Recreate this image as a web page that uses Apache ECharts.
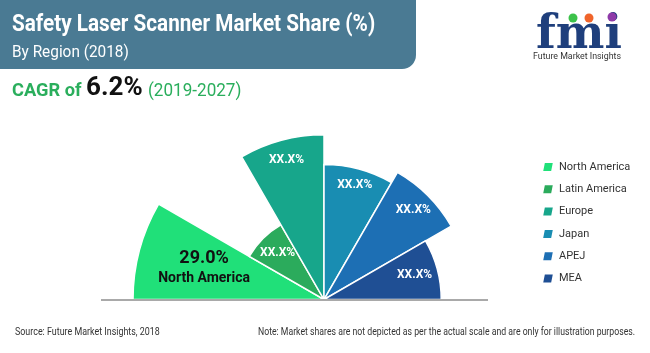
<!DOCTYPE html>
<html>
<head>
<meta charset="utf-8">
<script src="https://cdn.jsdelivr.net/npm/echarts@6/dist/echarts.min.js"></script>
<style>
html, body { margin: 0; padding: 0; background: #fff; }
#chart { width: 650px; height: 353px; }
</style>
</head>
<body>
<div id="chart"></div>
<script>
// regions, clockwise from the left
const regions = ["North America", "Latin America", "Europe", "Japan", "APEJ", "MEA"];
// values drive the petal length (half rose, not to scale)
const shares = [29.0, 13.1, 25.0, 20.5, 22.3, 17.8];
const shareLabels = ["29.0%", "XX.X%", "XX.X%", "XX.X%", "XX.X%", "XX.X%"];
const colors = ["#20e079", "#2bab5c", "#17a68b", "#198db2", "#1d6fb4", "#1f4f94"];
// how far out the label sits, as a share of the petal length
const labelDepth = [0.65, 0.76, 0.88, 0.88, 0.86, 0.8];

const cx = 324, cy = 299.5;

const chart = echarts.init(document.getElementById("chart"));

// one stacked series per region so the legend lists them
const series = regions.map(function (name, i) {
    const data = regions.map(function (r, j) { return j === i ? shares[i] : null; });
    const label = i === 0
        ? {
            show: true,
            position: "middle",
            rotate: 0,
            formatter: "{a|" + shareLabels[i] + "}\n{b|" + name + "}",
            rich: {
                a: { fontFamily: "Roboto", fontWeight: "bold", fontSize: 18, color: "#111", lineHeight: 22, align: "center" },
                b: { fontFamily: "Roboto", fontWeight: "bold", fontSize: 14, color: "#111", lineHeight: 18, align: "center" },
            },
        }
        : {
            show: true,
            position: "middle",
            rotate: 0,
            formatter: shareLabels[i],
            color: "#fff",
            fontFamily: "Roboto",
            fontWeight: "bold",
            fontSize: 12,
        };
    return {
        name: name,
        type: "bar",
        coordinateSystem: "polar",
        stack: "all",
        barCategoryGap: "0%",
        data: data,
        silent: true,
        itemStyle: { color: colors[i], borderColor: "#fff", borderWidth: 1.5 },
        label: label,
        labelLayout: function (p) {
            const lx = p.labelRect.x + p.labelRect.width / 2;
            const ly = p.labelRect.y + p.labelRect.height / 2;
            const k = labelDepth[i] / 0.5;
            return { x: cx + (lx - cx) * k, y: cy + (ly - cy) * k, rotate: 0, align: "center", verticalAlign: "middle" };
        },
    };
});

const option = {
    animation: false,
    backgroundColor: "#fff",
    polar: { center: [cx, cy], radius: [0, 191] },
    angleAxis: {
        type: "category",
        data: regions,
        startAngle: 180,
        endAngle: 0,
        clockwise: true,
        show: false,
    },
    radiusAxis: { type: "value", min: 0, max: "dataMax", show: false },
    legend: {
        orient: "vertical",
        left: 536,
        top: 156,
        itemWidth: 12,
        itemHeight: 10,
        itemGap: 10.3,
        icon: "path://M2,0 L12,0 L10,10 L0,10 Z",
        textStyle: { fontFamily: "Roboto", fontSize: 11, color: "#333" },
        data: regions,
        selectedMode: false,
    },
    series: series,
    graphic: [
        // header band
        {
            type: "rect",
            shape: { x: 0, y: 0, width: 416, height: 69, r: [0, 0, 14, 0] },
            style: { fill: "#4a7a93" },
        },
        {
            type: "text",
            x: 12, y: 25.5,
            scaleX: 0.9,
            style: { text: "Safety Laser Scanner Market Share (%)", font: "bold 23px Roboto", fill: "#fff", verticalAlign: "middle" },
        },
        {
            type: "text",
            x: 12, y: 53,
            scaleX: 0.96,
            style: { text: "By Region (2018)", font: "16px Roboto", fill: "#fff", verticalAlign: "middle" },
        },
        // CAGR line
        {
            type: "text",
            x: 12, y: 91,
            scaleX: 0.96,
            style: { text: "CAGR of", font: "bold 19px Roboto", fill: "#2aae5c", verticalAlign: "middle" },
        },
        {
            type: "text",
            x: 86, y: 88,
            scaleX: 1.0,
            style: { text: "6.2%", font: "bold 26px Roboto", fill: "#111", verticalAlign: "middle" },
        },
        {
            type: "text",
            x: 148, y: 91,
            scaleX: 0.95,
            style: { text: "(2019-2027)", font: "18px Roboto", fill: "#2aae5c", verticalAlign: "middle" },
        },
        // logo
        {
            type: "text",
            x: 536, y: 36,
            scaleX: 1.0,
            style: { text: "fmi", font: "bold 46px 'DejaVu Serif'", fill: "#1f3f7c", verticalAlign: "middle" },
        },
        { type: "circle", shape: { cx: 573, cy: 18, r: 4.5 }, style: { fill: "#3cc24a" } },
        { type: "circle", shape: { cx: 589, cy: 18, r: 4.5 }, style: { fill: "#f0642a" } },
        { type: "circle", shape: { cx: 612, cy: 17, r: 4.5 }, style: { fill: "#8e3aa8" } },
        {
            type: "text",
            x: 533, y: 57,
            scaleX: 0.98,
            style: { text: "Future Market Insights", font: "9px Roboto", fill: "#333", verticalAlign: "middle" },
        },
        // baseline under the half rose
        {
            type: "line",
            shape: { x1: 101, y1: 300, x2: 488, y2: 300 },
            style: { stroke: "#555", lineWidth: 1 },
            z: 10,
        },
        // footer
        {
            type: "text",
            x: 15, y: 332,
            scaleX: 0.81,
            style: { text: "Source: Future Market Insights, 2018", font: "11px Roboto", fill: "#333", verticalAlign: "middle" },
        },
        {
            type: "text",
            x: 258, y: 332,
            scaleX: 0.79,
            style: { text: "Note: Market shares are not depicted as per the actual scale and are only for illustration purposes.", font: "11px Roboto", fill: "#333", verticalAlign: "middle" },
        },
    ],
};

chart.setOption(option);
</script>
</body>
</html>
